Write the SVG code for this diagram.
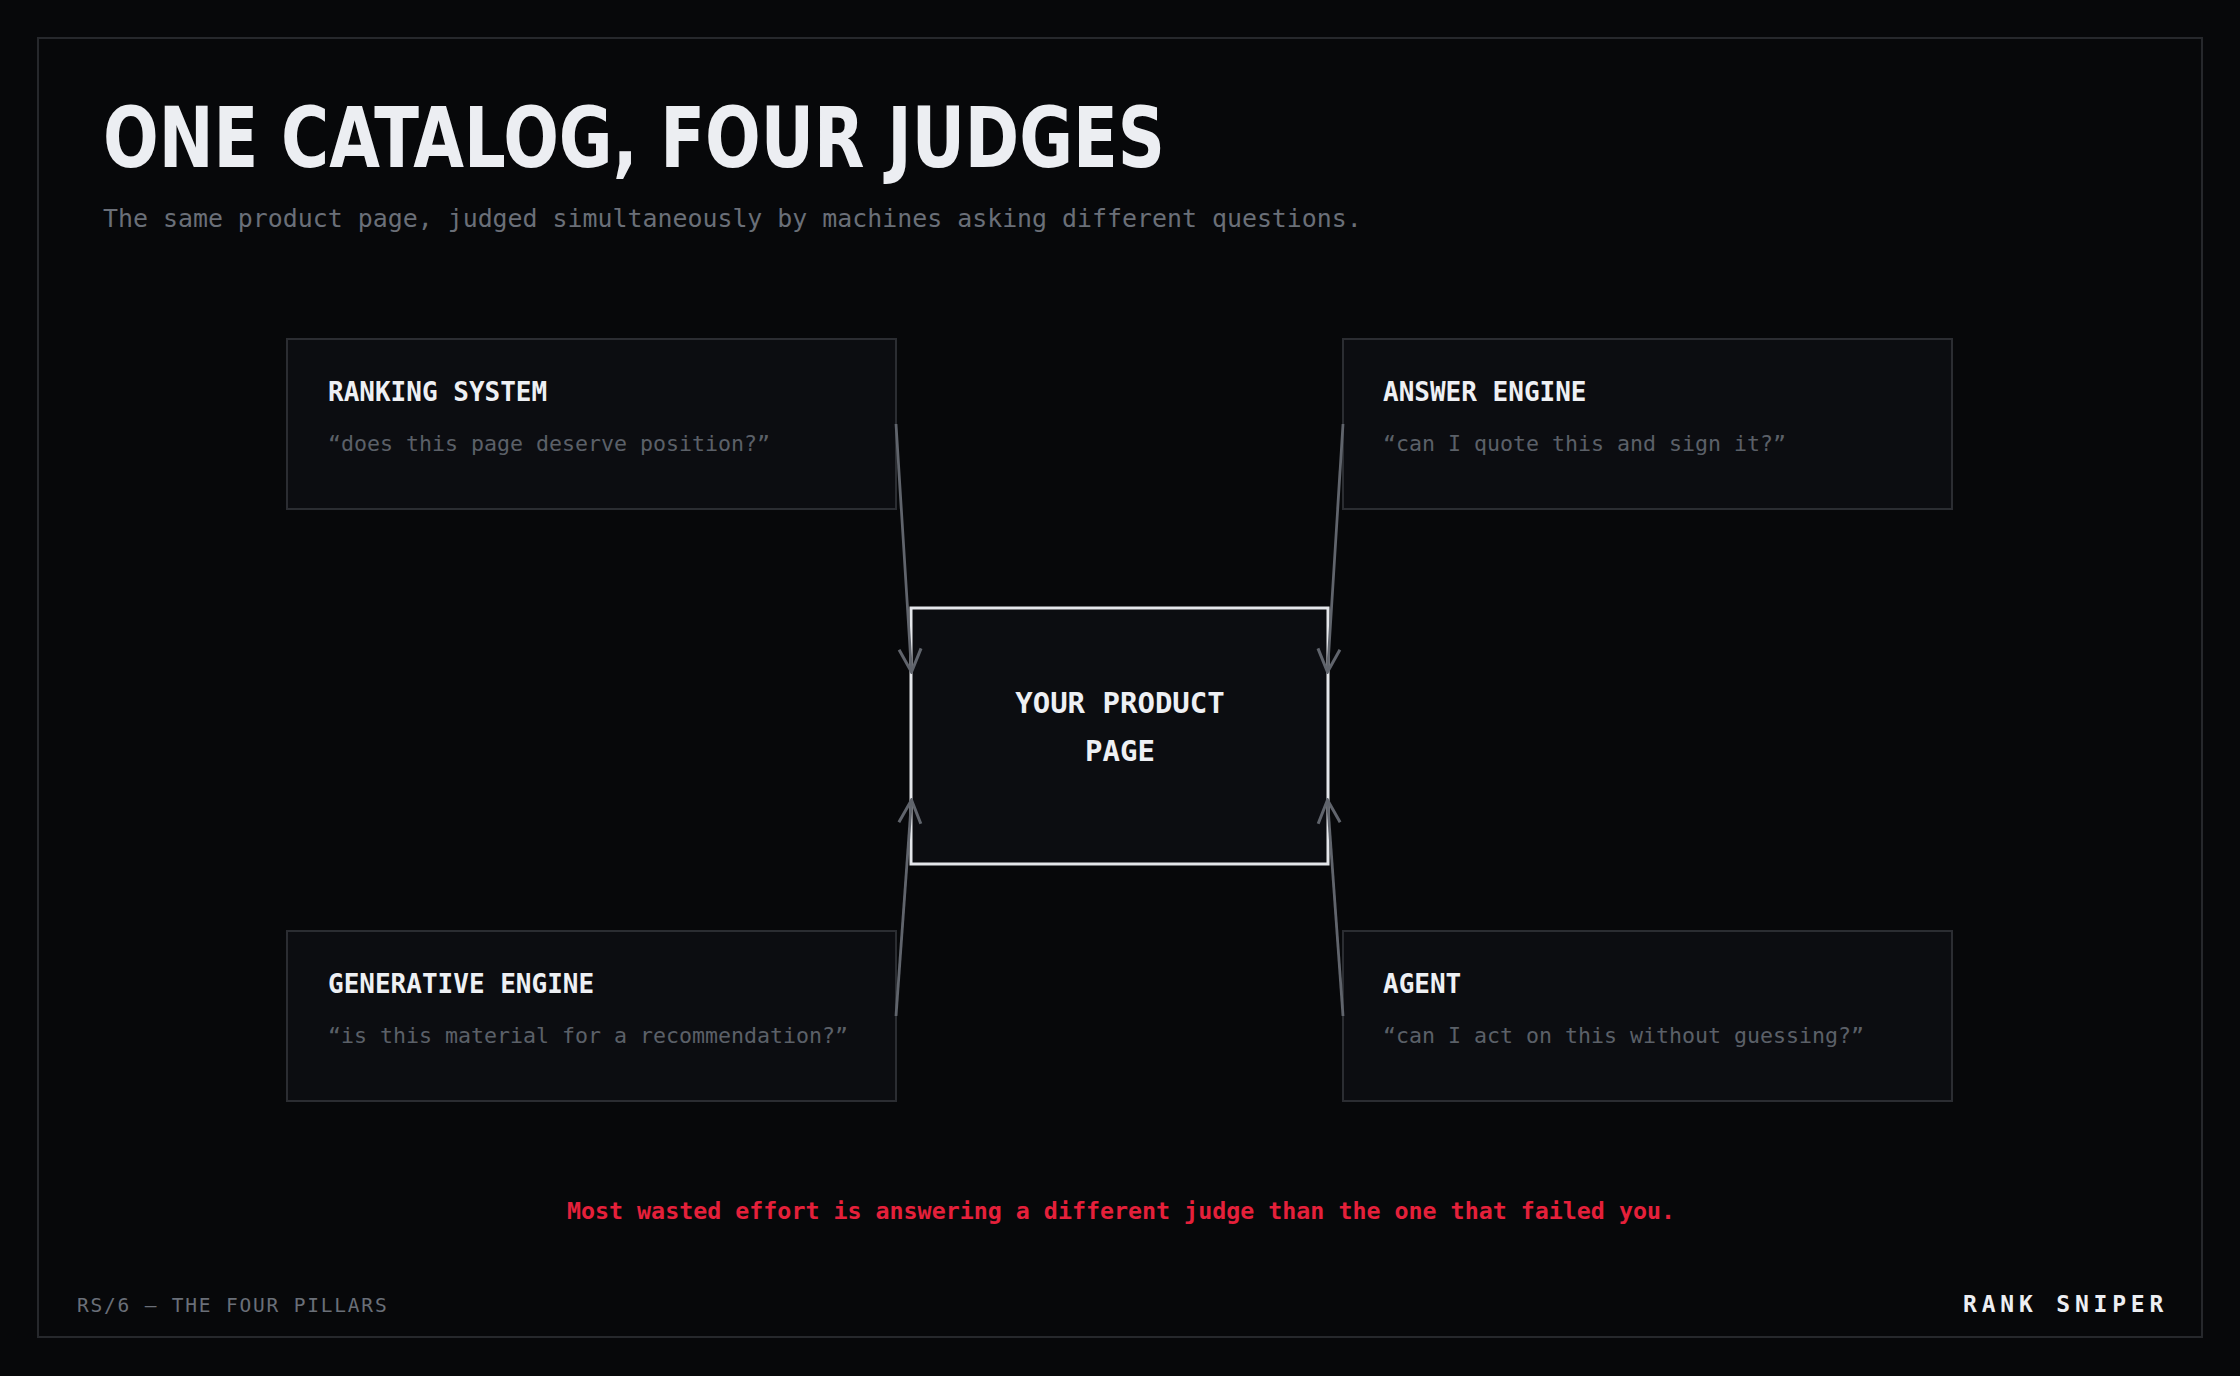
<svg xmlns="http://www.w3.org/2000/svg" width="2240" height="1376" viewBox="0 0 2240 1376">
<style>
.mono{font-family:"DejaVu Sans Mono","Liberation Mono",monospace}
.node rect{fill:#0c0d11;stroke:#2b2d32;stroke-width:2}
.ntitle{font-family:"DejaVu Sans Mono","Liberation Mono",monospace;font-weight:bold;font-size:26px;fill:#eef0f4}
.nquote{font-family:"DejaVu Sans Mono","Liberation Mono",monospace;font-size:21.6px;fill:#5b6068}
.conn line{stroke:#60646c;stroke-width:2.8;fill:none;marker-end:url(#arr)}
</style>
<defs>
<marker id="arr" markerUnits="userSpaceOnUse" viewBox="-26 -14 28 28" markerWidth="28" markerHeight="28" refX="0" refY="0" orient="auto">
<path d="M-23,-11 L0,0 L-23,11" fill="none" stroke="#60646c" stroke-width="3"/>
</marker>
</defs>
<rect x="0" y="0" width="2240" height="1376" fill="#07080a"/>
<rect x="38" y="38" width="2164" height="1299" fill="#07080a" stroke="#26282c" stroke-width="2"/>
<text x="103" y="167" font-family="DejaVu Sans Condensed,DejaVu Sans,sans-serif" font-weight="bold" font-size="84" fill="#eceef2" textLength="1062" lengthAdjust="spacingAndGlyphs">ONE CATALOG, FOUR JUDGES</text>
<text x="103" y="227" class="mono" font-size="24.9" fill="#6a6f78">The same product page, judged simultaneously by machines asking different questions.</text>
<g id="ranking" class="node">
<rect x="287" y="339" width="609" height="170"/>
<text x="328" y="401" class="ntitle">RANKING SYSTEM</text>
<text x="328" y="451" class="nquote">“does this page deserve position?”</text>
</g>
<g id="answer" class="node">
<rect x="1343" y="339" width="609" height="170"/>
<text x="1383" y="401" class="ntitle">ANSWER ENGINE</text>
<text x="1383" y="451" class="nquote">“can I quote this and sign it?”</text>
</g>
<g id="generative" class="node">
<rect x="287" y="931" width="609" height="170"/>
<text x="328" y="993" class="ntitle">GENERATIVE ENGINE</text>
<text x="328" y="1043" class="nquote">“is this material for a recommendation?”</text>
</g>
<g id="agent" class="node">
<rect x="1343" y="931" width="609" height="170"/>
<text x="1383" y="993" class="ntitle">AGENT</text>
<text x="1383" y="1043" class="nquote">“can I act on this without guessing?”</text>
</g>
<g id="product">
<rect x="911" y="608" width="417" height="256" fill="#0c0d11" stroke="#e4e6ea" stroke-width="3"/>
<text x="1120" y="713" class="mono" font-weight="bold" font-size="29" fill="#eef0f4" text-anchor="middle">YOUR PRODUCT</text>
<text x="1120" y="761" class="mono" font-weight="bold" font-size="29" fill="#eef0f4" text-anchor="middle">PAGE</text>
</g>
<g class="conn">
<line x1="896" y1="424" x2="911.5" y2="672"/>
<line x1="1343" y1="424" x2="1327.5" y2="672"/>
<line x1="896" y1="1016" x2="911.5" y2="800"/>
<line x1="1343" y1="1016" x2="1327.5" y2="800"/>
</g>
<text x="1121" y="1219" class="mono" font-weight="bold" font-size="23.3" fill="#e5203a" text-anchor="middle">Most wasted effort is answering a different judge than the one that failed you.</text>
<text x="77" y="1312" class="mono" font-size="19.5" letter-spacing="1.8" fill="#6a6f78">RS/6 — THE FOUR PILLARS</text>
<text x="1963" y="1312" class="mono" font-weight="bold" font-size="23" letter-spacing="4.8" fill="#eceef2">RANK SNIPER</text>
</svg>
